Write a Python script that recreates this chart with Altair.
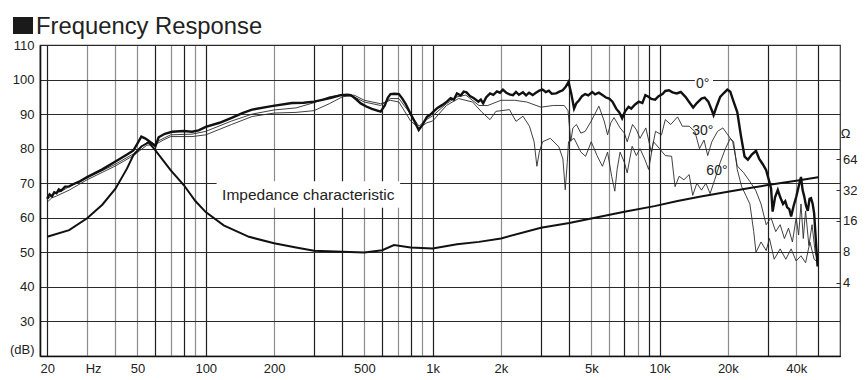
import altair as alt
import pandas as pd

# ---------------- data ----------------
f_0deg = [20, 20.5, 21, 21.5, 22, 22.5, 23, 24, 25, 26, 28, 30, 35, 40, 45, 48, 50, 52, 54, 56, 58, 60, 62, 66, 71,
          80, 87, 93, 100, 115, 130, 145, 160, 195, 240, 270, 300, 330, 360, 394, 420, 436, 460, 482, 510, 540, 570,
          590, 615, 635, 652, 680, 710, 735, 760, 798, 830, 868, 900, 944, 975, 1000, 1050, 1100, 1155, 1200, 1240,
          1280, 1330, 1370, 1410, 1460, 1520, 1590, 1630, 1670, 1720, 1790, 1850, 1920, 1980, 2040, 2110, 2180,
          2260, 2330, 2400, 2500, 2580, 2660, 2760, 2850, 2950, 3050, 3150, 3250, 3350, 3500, 3620, 3740, 3850,
          3970, 4080, 4200, 4300, 4420, 4550, 4700, 4850, 5050, 5200, 5400, 5600, 5800, 6000, 6200, 6450, 6650,
          6840, 7050, 7300, 7500, 7800, 8100, 8400, 8660, 8900, 9200, 9560, 9900, 10300, 10600, 11000, 11400,
          11900, 12400, 13000, 13500, 14060, 14600, 15300, 15800, 16400, 16900, 17300, 17900, 18500, 19200, 19900,
          20500, 21100, 22000, 22800, 23700, 24500, 25500, 26600, 27500, 28500, 29500, 30300, 31000, 31500, 32300,
          33200, 34000, 35000, 35800, 36500, 37300, 38000, 39000, 40000, 41000, 42000, 42700, 43400, 44200, 45000,
          45800, 46500, 47300, 48000, 49000, 49700]
db_0deg = [65.5, 66.8, 66.2, 67.4, 67.1, 68.2, 67.8, 69, 69.1, 69.7, 70.6, 71.8, 74, 76.3, 78.3, 79.5, 81.5, 83.5,
           83, 82.3, 81.5, 80.7, 83.3, 84.3, 84.9, 85.1, 84.9, 85.3, 86.3, 87.5, 88.9, 90.3, 91.3, 92.3, 93.2, 93.3,
           93.6, 94.2, 94.8, 95.5, 95.6, 95.5, 94.3, 93.1, 92.2, 91.5, 91, 90.7, 92.5, 94.8, 95.8, 95.9, 95.8, 94.5,
           93, 90.2, 88, 85.4, 86.8, 89.2, 89.8, 90.5, 91.8, 92.6, 93.6, 94.6, 94.2, 96, 95.4, 96.5, 96.3, 95.2,
           94.6, 93.6, 94.2, 93.1, 94.8, 96, 95.6, 96.6, 96.2, 97.1, 96.2, 95.7, 95.5, 96.4, 95.6, 96.3, 95.4, 96.2,
           95.5, 96.2, 96.8, 97.1, 96.4, 96.8, 95.9, 96, 96.5, 96.9, 97.8, 99.3, 96, 91.6, 93.2, 94, 95.2, 95.8,
           95.4, 96.4, 95.7, 96.2, 95.5, 94.8, 94.5, 93.6, 91.5, 90.5, 88.8, 90.8, 92.1, 91.6, 92.8, 93.6, 93.2,
           95.5, 95.1, 94.4, 94.2, 95.2, 95.8, 96.7, 96.9, 96.3, 96, 96.4, 95, 93.5, 91.9, 93.2, 94.5, 94.8, 93.6,
           91.5, 89.7, 92.5, 95, 96.1, 97.1, 96.5, 94, 90.6, 84, 77.7, 76.8, 78.3, 79.4, 77, 75.5, 73.8, 71, 68.5,
           61.8, 66, 68.1, 66, 64, 64.8, 63, 62.5, 60.4, 63.5, 66, 69, 71.8, 68, 66.2, 63.5, 62, 65.5, 65.7, 64, 61.3,
           52, 45.9]

f_30deg = [20, 21, 22, 23, 25, 30, 40, 48, 52, 56, 60, 62, 70, 87, 100, 130, 160, 200, 250, 300, 350, 400, 450, 500,
           590, 650, 710, 800, 870, 944, 1000, 1150, 1280, 1400, 1600, 1750, 2000, 2300, 2600, 3000, 3400, 3800,
           3950, 4060, 4150, 4300, 4500, 4700, 5000, 5400, 5700, 5900, 6100, 6300, 6700, 7000, 7200, 7600, 7900,
           8200, 8700, 9200, 9600, 10200, 10600, 11200, 12000, 12600, 13500, 14300, 15000, 15700, 16300, 17000,
           18000, 19000, 20000, 21000, 22000, 23500, 25000, 26500, 28000, 29500, 31000, 32500, 34000, 35500, 37000,
           38500, 40000, 41000, 42000, 43000, 44000, 45500, 47000, 48500, 50000]
db_30deg = [65.2, 66.5, 67.3, 67.6, 69, 71.5, 75.5, 78.5, 80.5, 82.2, 81.2, 82.3, 84, 84.2, 85, 88, 90, 91.2, 91.8,
            93.3, 95, 95.6, 95, 93.5, 92.5, 94.5, 94.5, 90, 86.5, 88.5, 89.5, 93, 95, 95.5, 92.5, 92.5, 94, 94, 93.5,
            92, 92.5, 92.5, 91, 82.1, 86, 87, 84.5, 85, 88, 92.3, 88, 84, 87.5, 89, 86, 84.5, 82, 87, 85.5, 83, 86,
            79, 85, 84, 88.4, 87, 89.2, 86.5, 86.5, 85, 80, 82.5, 78, 82, 85, 86, 84, 82, 75, 73, 70.5, 68, 64, 58,
            60, 56, 58, 54, 57, 53, 60, 55, 64, 54, 62, 52, 58, 50, 47]

f_60deg = [20, 21, 22, 25, 30, 40, 48, 55, 60, 65, 70, 87, 100, 130, 160, 200, 250, 300, 350, 400, 450, 500, 590,
           650, 710, 800, 870, 944, 1000, 1150, 1300, 1500, 1650, 1790, 1900, 2180, 2330, 2500, 2670, 2800, 2880,
           2950, 3050, 3300, 3600, 3750, 3840, 3920, 3970, 4200, 4500, 4720, 5000, 5300, 5600, 5900, 6150, 6350,
           6500, 6700, 7000, 7200, 7570, 7900, 8200, 8600, 8950, 9400, 10000, 10600, 11300, 11700, 12200, 12800,
           13500, 14000, 14600, 15300, 16000, 16700, 17500, 18500, 19500, 20500, 21200, 22000, 23000, 24000, 25000,
           26000, 26600, 28000, 29500, 30500, 32000, 34000, 36000, 38000, 40000, 42000, 44000, 46000, 48000, 50000]
db_60deg = [64.5, 65.8, 66.3, 68, 71, 75, 78, 81, 81.2, 82.5, 83.5, 83.5, 84, 87, 89.3, 90.3, 90.5, 91, 93, 95,
            95.5, 94, 93, 94, 93.5, 88, 86, 87.5, 88, 92.5, 94.5, 93.5, 90.5, 88.4, 90.8, 91.3, 87.9, 89.4, 86.5,
            82, 74.9, 79, 82, 83, 80.5, 77, 68.1, 76, 82, 83, 79, 77.8, 82, 78, 74.9, 79, 72, 67.7, 74, 79, 76, 73,
            80.7, 78, 80, 77, 74, 82, 80, 78, 77.8, 69, 72, 71, 72.5, 66.5, 70, 68, 70, 67, 71, 76, 80, 83, 82, 74,
            69, 66.5, 64, 56, 50, 53, 50.5, 54, 48, 51, 48, 51, 47.5, 49, 47, 53, 48, 47]

f_imp = [20, 25, 30, 35, 40, 45, 48, 52, 56, 60, 65, 70, 80, 90, 100, 120, 155, 200, 250, 300, 400, 500, 600, 675,
         800, 1000, 1280, 1600, 2000, 3000, 4000, 5000, 7000, 9500, 12000, 15000, 20000, 25000, 30000, 40000, 50000]
ohm_imp = [11.2, 13.0, 17.0, 23, 33, 52, 70, 85, 93, 78, 62, 50, 35.8, 25, 19.5, 14.5, 11.2, 9.7, 8.8, 8.2, 8.0,
           7.9, 8.3, 9.3, 8.8, 8.6, 9.5, 10.0, 10.8, 13.7, 15.3, 16.9, 19.7, 22.3, 25, 27.5, 30.8, 33.5, 35.8, 39.5,
           42.6]

grid_freqs = [20, 30, 40, 50, 60, 70, 80, 90, 100, 200, 300, 400, 500, 600, 700, 800, 900, 1000, 2000, 3000, 4000,
              5000, 6000, 7000, 8000, 9000, 10000, 20000, 30000, 40000, 50000]
dark_grid_freqs = [20, 60, 80, 100, 300, 400, 600, 800, 1000, 3000, 4000, 7000, 9000, 10000, 30000, 50000]
x_label_freqs = [20, 50, 100, 200, 500, 1000, 2000, 5000, 10000, 20000, 40000]
hz_label_freq = 30
db_ticks = [20, 30, 40, 50, 60, 70, 80, 90, 100, 110]
ohm_ticks = [4, 8, 16, 32, 64]

curve_labels = ["0°", "30°", "60°"]
curve_label_f = [15500, 15500, 17900]
curve_label_db = [98.6, 85.2, 73.4]
imp_label = "Impedance characteristic"
imp_label_f = 283
imp_label_db = 66.7
# white boxes behind labels (freq range, dB range)
box_f1 = [111.6, 14300]
box_f2 = [719, 17200]
box_d1 = [62.9, 96.2]
box_d2 = [70.6, 100.3]

title_text = "Frequency Response"

# ---------------- chart ----------------
W, H = 800, 311
FONT = "Liberation Sans"
TXT = "#222222"

xscale = alt.Scale(type="log", domain=[18.6, 62400], nice=False)
yscale = alt.Scale(domain=[20, 110], nice=False)
zscale = alt.Scale(type="log", base=2, domain=[0.773, 828], nice=False)

lab_list = ",".join(str(v) for v in x_label_freqs)
x_expr = (f"datum.value == {hz_label_freq} ? 'Hz' : (indexof([{lab_list}], datum.value) >= 0 ? "
          "(datum.value >= 1000 ? (datum.value / 1000) + 'k' : '' + datum.value) : '')")
dark_list = ",".join(str(v) for v in dark_grid_freqs)

x_axis = alt.Axis(values=grid_freqs, labelExpr=x_expr, grid=True,
                  gridColor={"condition": {"test": f"indexof([{dark_list}], datum.value) >= 0", "value": "#1e1e1e"},
                             "value": "#8c8c8c"},
                  gridWidth=1.2, ticks=False, domain=True, domainColor="#111", domainWidth=1.6,
                  labelOverlap=False, labelFlush=False, labelPadding=6, labelFontSize=13, labelFont=FONT,
                  labelColor=TXT, title=None,
                  labelOffset={"condition": {"test": f"datum.value == {hz_label_freq}", "value": 6}, "value": 0})
y_axis = alt.Axis(values=db_ticks, labelExpr="datum.value == 20 ? '(dB)' : datum.value", grid=True,
                  gridColor="#2a2a2a", gridWidth=1.1, ticks=False, domain=True, domainColor="#111",
                  domainWidth=1.6, labelPadding=6, labelFontSize=13, labelFont=FONT, labelColor=TXT,
                  labelBaseline={"condition": {"test": "datum.value == 20", "value": "bottom"}, "value": "middle"},
                  title=None)
z_axis = alt.Axis(orient="right", values=ohm_ticks, grid=False, ticks=True, tickSize=4, tickColor="#333",
                  offset=-4, domain=False, labelPadding=2.5, labelFontSize=13, labelFont=FONT, labelColor=TXT,
                  title="Ω", titleAngle=0, titleX=9, titleY=88, titleAlign="center", titleBaseline="middle",
                  titleFontWeight="normal", titleFontSize=13, titleFont=FONT, titleColor=TXT)


def X(field):
    return alt.X(f"{field}:Q", scale=xscale, axis=x_axis)


def Y(field):
    return alt.Y(f"{field}:Q", scale=yscale, axis=y_axis)


df0 = pd.DataFrame({"freq": f_0deg, "db": db_0deg})
df30 = pd.DataFrame({"freq": f_30deg, "db": db_30deg})
df60 = pd.DataFrame({"freq": f_60deg, "db": db_60deg})
dfz = pd.DataFrame({"freq": f_imp, "ohm": ohm_imp})
dfbox = pd.DataFrame({"f1": box_f1, "f2": box_f2, "d1": box_d1, "d2": box_d2})
dflab = pd.DataFrame({"label": curve_labels, "freq": curve_label_f, "db": curve_label_db})
dfimp = pd.DataFrame({"label": [imp_label], "freq": [imp_label_f], "db": [imp_label_db]})
dftitle = pd.DataFrame({"t": [title_text]})

boxes = alt.Chart(dfbox).mark_rect(color="white").encode(
    x=X("f1"), x2="f2", y=Y("d1"), y2="d2")

line30 = alt.Chart(df30).mark_line(color="#2b2b2b", strokeWidth=0.9).encode(x=X("freq"), y=Y("db"))
line60 = alt.Chart(df60).mark_line(color="#2b2b2b", strokeWidth=0.9).encode(x=X("freq"), y=Y("db"))
line0 = alt.Chart(df0).mark_line(color="#111111", strokeWidth=2.4).encode(x=X("freq"), y=Y("db"))

labels = alt.Chart(dflab).mark_text(font=FONT, fontSize=14, color=TXT, align="center", baseline="middle").encode(
    x=X("freq"), y=Y("db"), text="label:N")
imp_text = alt.Chart(dfimp).mark_text(font=FONT, fontSize=15.5, color=TXT, align="center",
                                      baseline="middle").encode(x=X("freq"), y=Y("db"), text="label:N")

title_sq = alt.Chart(dftitle).mark_rect(color="#1a1a1a").encode(
    x=alt.value(-27), x2=alt.value(-7), y=alt.value(-28), y2=alt.value(-11))
title_txt = alt.Chart(dftitle).mark_text(font=FONT, fontSize=23.8, color=TXT, align="left",
                                         baseline="alphabetic").encode(
    x=alt.value(-4), y=alt.value(-11.5), text="t:N")

spl = alt.layer(boxes, line30, line60, line0, labels, imp_text, title_sq, title_txt)

imp = alt.Chart(dfz).mark_line(color="#111111", strokeWidth=2.0).encode(
    x=X("freq"), y=alt.Y("ohm:Q", scale=zscale, axis=z_axis))

chart = alt.layer(spl, imp).resolve_scale(y="independent").properties(
    width=W, height=H,
    autosize=alt.AutoSizeParams(type="none"),
    padding={"left": 32, "top": 37, "right": 18, "bottom": 20},
).configure_view(stroke="#333333", strokeWidth=1.2)

chart.save("out.html", embed_options={"renderer": "svg", "actions": False})
